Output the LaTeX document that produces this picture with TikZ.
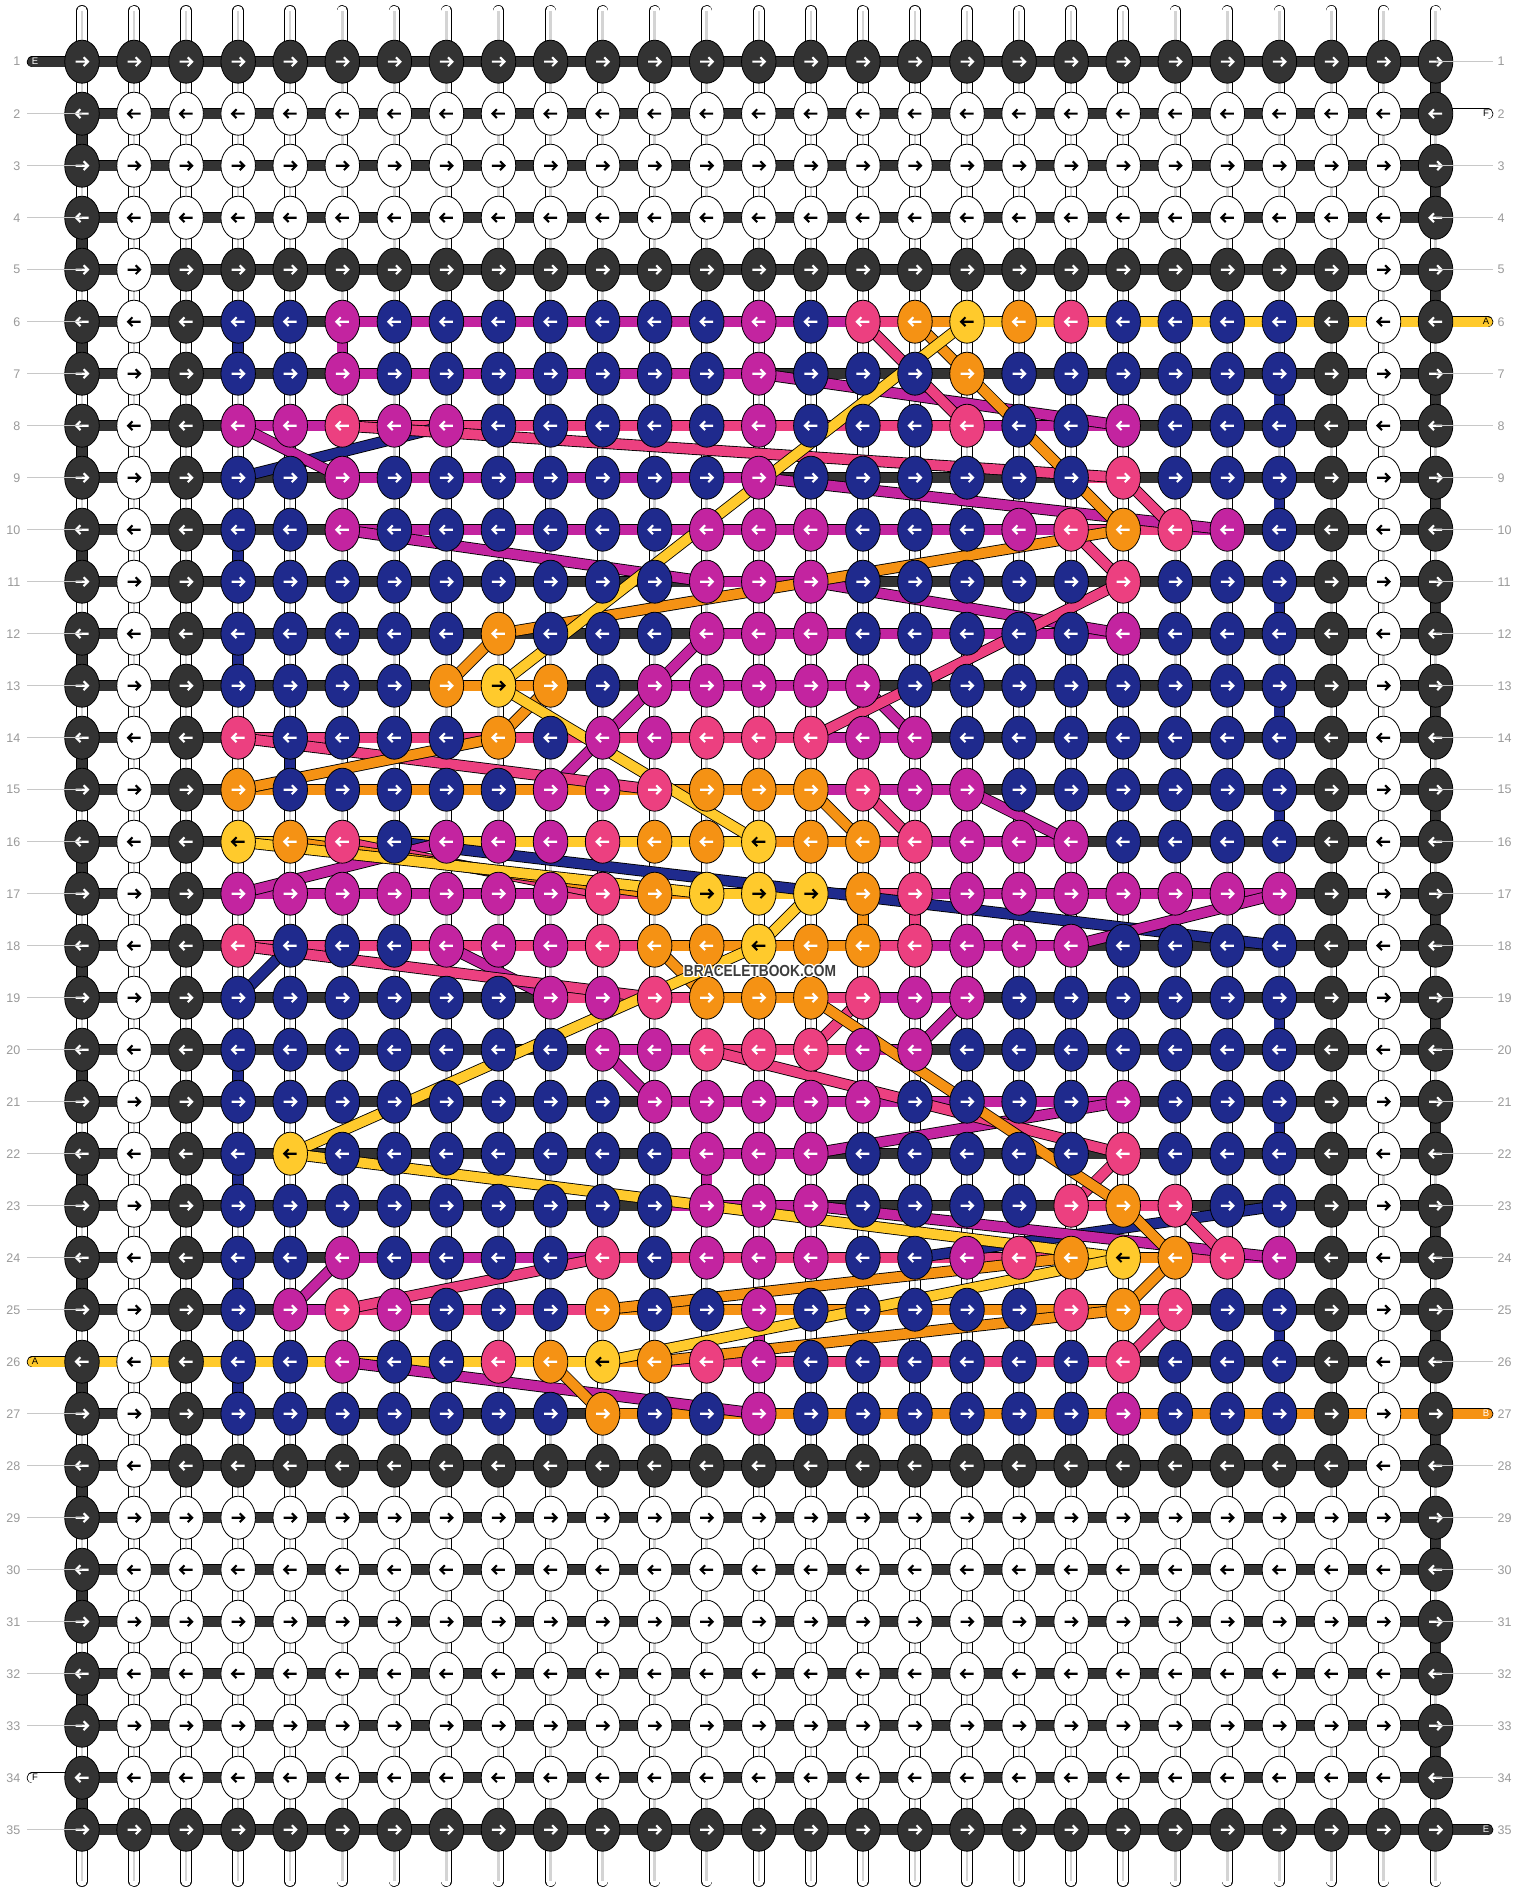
\documentclass[tikz,border=0pt]{standalone}
\usepackage{fontspec}
\setmainfont{Liberation Sans}
\usepackage{graphicx}
\usetikzlibrary{shapes.geometric}
\definecolor{cK}{HTML}{333333}
\definecolor{cW}{HTML}{FFFFFF}
\definecolor{cN}{HTML}{1F2A8D}
\definecolor{cM}{HTML}{C324A0}
\definecolor{cP}{HTML}{EC4080}
\definecolor{cO}{HTML}{F59214}
\definecolor{cY}{HTML}{FFCA2C}
\colorlet{aK}{white}\colorlet{aW}{black}\colorlet{aN}{white}\colorlet{aM}{white}
\colorlet{aP}{white}\colorlet{aO}{white}\colorlet{aY}{black}
\definecolor{numgray}{HTML}{9A9A9A}
\definecolor{linegray}{HTML}{C8C8C8}
\definecolor{stgray}{HTML}{D4D4D4}
\definecolor{wmgray}{HTML}{3C3C3C}
\tikzset{
  knot/.style={ellipse, draw=black, line width=0.8pt, minimum width=34.5pt, minimum height=43pt, inner sep=0pt},
  arrowline/.style={line width=2.1pt, line join=miter},
  rownum/.style={font=\fontsize{12.5}{14}\selectfont, text=numgray, inner sep=0pt},
  endlabel/.style={font=\fontsize{9.5}{11}\selectfont, inner sep=0pt},
  barout/.style={line width=11.5pt, black},
  barin/.style={line width=10pt},
  wmark/.style={font=\fontsize{16}{18}\selectfont\bfseries, inner sep=0pt},
}
\def\KK{K,K,K,K,K,K,K,K,K,K,K,K,K,K,K,K,K,K,K,K,K,K,K,K,K,K,K}
\def\KW{K,W,W,W,W,W,W,W,W,W,W,W,W,W,W,W,W,W,W,W,W,W,W,W,W,W,K}
\def\KD{K,W,K,K,K,K,K,K,K,K,K,K,K,K,K,K,K,K,K,K,K,K,K,K,K,W,K}
\def\HK{K,K,K,K,K,K,K,K,K,K,K,K,K,K,K,K,K,K,K,K,K,K,K,K,K,K}
\newcommand\myknotrow[2]{%
  \pgfmathsetmacro\dir{ifthenelse(mod(#1,2)==1,1,-1)}%
  \edef\tmplist{#2}%
  \foreach \k [count=\c] in \tmplist {%
    \node[knot, fill=c\k] (k-#1-\c) at (p-#1-\c) {};
    \begin{scope}[shift={(p-#1-\c)}, xscale=\dir]
      \draw[arrowline, draw=a\k] (-6.5,0) -- (5.4,0) (1.6,-4.4) -- (6,0) -- (1.6,4.4);
    \end{scope}
  }%
}
\newcommand\myhrow[2]{%
  \edef\tmplist{#2}%
  \foreach \k [count=\c] in \tmplist {%
    \pgfmathtruncatemacro\cn{\c+1}%
    \draw[barout] (p-#1-\c) -- (p-#1-\cn);
    \draw[barin, draw=c\k] (p-#1-\c) -- (p-#1-\cn);
  }%
}
\newcommand\myvc[3]{%
  \pgfmathtruncatemacro\rn{#2+1}%
  \draw[barout] (p-#2-#1) -- (p-\rn-#1);
  \draw[barin, draw=c#3] (p-#2-#1) -- (p-\rn-#1);
}
\begin{document}
\begin{tikzpicture}[x=1pt,y=-1pt]
\useasboundingbox (0,0) rectangle (1520,1892);
\fill[white] (0,0) rectangle (1520,1892);
% grid coordinates
\foreach \r in {1,...,35}{
  \foreach \c in {1,...,27}{
    \pgfmathsetmacro\xx{82+(\c-1)*52.06}
    \pgfmathsetmacro\yy{61.7+(\r-1)*52}
    \coordinate (p-\r-\c) at (\xx,\yy);
  }
}
% top and bottom strands
\foreach \c in {1,...,27}{
  \pgfmathsetmacro\xx{82+(\c-1)*52.06}
  \coordinate (t-\c) at (\xx,10.8);
  \coordinate (b-\c) at (\xx,1881.2);
  \draw[barout, line cap=round] (t-\c) -- (p-1-\c);
  \draw[barin, white, line cap=round] (t-\c) -- (p-1-\c);
  \draw[line width=2.5pt, stgray] (t-\c) -- (p-1-\c);
  \draw[barout, line cap=round] (b-\c) -- (p-35-\c);
  \draw[barin, white, line cap=round] (b-\c) -- (p-35-\c);
  \draw[line width=2.5pt, stgray] (b-\c) -- (p-35-\c);
}
% vertical connectors (default white)
\foreach \r in {1,...,34}{
  \pgfmathtruncatemacro\rn{\r+1}
  \foreach \c in {1,...,27}{
    \draw[barout] (p-\r-\c) -- (p-\rn-\c);
    \draw[barin, white] (p-\r-\c) -- (p-\rn-\c);
    \draw[line width=2.5pt, stgray] (p-\r-\c) -- (p-\rn-\c);
  }
}
% coloured vertical connectors
\foreach \r in {2,4,...,34}{\myvc{1}{\r}{K}}
\foreach \r in {1,3,...,33}{\myvc{27}{\r}{K}}
\foreach \r in {6,10,12,20,22,24,26}{\myvc{4}{\r}{N}}
\foreach \r in {7,9,11,13,15,19,21,25}{\myvc{24}{\r}{N}}
\foreach \c/\r/\k in {6/6/M,5/14/N,16/17/O,17/17/P,13/22/M,14/25/M}{\myvc{\c}{\r}{\k}}
% horizontal connectors
\foreach \r in {1,...,5}{\myhrow{\r}{\HK}}
\foreach \r in {28,...,35}{\myhrow{\r}{\HK}}
\myhrow{6}{K,K,K,K,K,M,M,M,M,M,M,M,M,M,M,P,O,Y,Y,Y,Y,Y,Y,Y,Y,Y}
\myhrow{7}{K,K,K,K,K,M,M,M,M,M,M,M,M,K,K,K,K,K,K,K,K,K,K,K,K,K}
\myhrow{8}{K,K,K,M,M,P,P,P,P,P,P,P,P,P,P,P,P,M,M,M,K,K,K,K,K,K}
\myhrow{9}{K,K,K,K,K,M,M,M,M,M,M,M,M,K,K,K,K,K,K,P,K,K,K,K,K,K}
\myhrow{10}{K,K,K,K,K,M,M,M,M,M,M,M,M,M,M,M,M,M,M,P,P,M,K,K,K,K}
\myhrow{11}{K,K,K,K,K,K,K,K,K,K,K,K,M,M,K,K,K,K,K,K,K,K,K,K,K,K}
\myhrow{12}{K,K,K,K,K,K,K,K,K,K,K,K,M,M,M,M,M,M,M,M,K,K,K,K,K,K}
\myhrow{13}{K,K,K,K,K,K,K,O,O,K,K,M,M,M,M,K,K,K,K,K,K,K,K,K,K,K}
\myhrow{14}{K,K,K,P,P,P,P,P,P,P,P,P,P,P,M,M,K,K,K,K,K,K,K,K,K,K}
\myhrow{15}{K,K,K,O,O,O,O,O,O,O,O,O,O,O,M,M,M,K,K,K,K,K,K,K,K,K}
\myhrow{16}{K,K,K,Y,Y,Y,Y,Y,Y,Y,Y,Y,Y,O,O,P,M,M,M,K,K,K,K,K,K,K}
\myhrow{17}{K,K,K,M,M,M,M,M,M,P,P,O,Y,Y,O,P,M,M,M,M,M,M,M,K,K,K}
\myhrow{18}{K,K,K,P,P,P,P,P,P,P,P,O,O,O,O,P,M,M,M,K,K,K,K,K,K,K}
\myhrow{19}{K,K,K,K,K,K,K,K,K,P,P,P,O,O,P,M,M,K,K,K,K,K,K,K,K,K}
\myhrow{20}{K,K,K,K,K,K,K,K,K,K,M,M,P,P,P,M,K,K,K,K,K,K,K,K,K,K}
\myhrow{21}{K,K,K,K,K,K,K,K,K,K,K,M,M,M,M,M,M,M,M,M,K,K,K,K,K,K}
\myhrow{22}{K,K,K,K,K,K,K,K,K,K,K,M,M,M,K,K,K,K,K,K,K,K,K,K,K,K}
\myhrow{23}{K,K,K,K,K,K,K,K,K,K,K,M,M,M,K,K,K,K,K,P,P,K,K,K,K,K}
\myhrow{24}{K,K,K,K,K,M,M,M,M,M,P,P,P,P,P,P,P,P,P,Y,O,P,M,K,K,K}
\myhrow{25}{K,K,K,K,M,P,P,P,P,P,O,O,O,O,O,O,O,O,O,O,P,K,K,K,K,K}
\myhrow{26}{Y,Y,Y,Y,Y,Y,Y,Y,Y,Y,O,P,P,P,P,P,P,P,P,P,K,K,K,K,K,K}
\myhrow{27}{K,K,K,K,K,K,K,K,K,K,O,O,O,O,O,O,O,O,O,O,O,O,O,O,O,O}
% strand ends with letters
\foreach \r/\k/\lab/\tc in {1/K/E/white,26/Y/A/black,34/W/F/black}{
  \path (p-\r-1) ++(-49.5,0) coordinate (eL-\r);
  \draw[barout, line cap=round] (eL-\r) -- (p-\r-1);
  \draw[barin, draw=c\k, line cap=round] (eL-\r) -- (p-\r-1);
  \path (eL-\r) ++(2.5,0) node[endlabel, text=\tc] (lbL-\r) {\lab};
}
\foreach \r/\k/\lab/\tc in {2/W/F/black,6/Y/A/black,27/O/B/white,35/K/E/white}{
  \path (p-\r-27) ++(52,0) coordinate (eR-\r);
  \draw[barout, line cap=round] (eR-\r) -- (p-\r-27);
  \draw[barin, draw=c\k, line cap=round] (eR-\r) -- (p-\r-27);
  \path (eR-\r) ++(-1.5,0) node[endlabel, text=\tc] (lbR-\r) {\lab};
}
% diagonal strands
\foreach \k/\ra/\ca/\rb/\cb in {
 N/8/8/9/4, N/16/7/18/24, N/18/5/19/4, N/24/17/23/24,
 M/8/4/9/6, M/10/6/11/13, M/7/14/8/21, M/9/14/10/23, M/11/15/12/21, M/12/13/13/12,
 M/13/16/14/17, M/13/12/15/10, M/15/18/16/20, M/17/4/16/8, M/18/8/19/10, M/20/11/21/12,
 M/20/17/19/18, M/18/20/17/24, M/22/15/21/21, M/23/15/24/24, M/25/5/24/6, M/26/6/27/14,
 P/8/6/9/21, P/6/16/8/18, P/9/21/10/22, P/10/20/11/21, P/11/21/14/15, P/14/4/15/12,
 P/15/16/16/17, P/16/6/17/11, P/18/4/19/12, P/20/13/22/21, P/20/15/19/16, P/22/21/23/20,
 P/23/22/24/23, P/25/22/26/21, P/25/6/24/11,
 O/6/17/7/18, O/7/18/10/21, O/10/21/12/9, O/12/9/13/8, O/13/10/14/9, O/14/9/15/4,
 O/15/15/16/16, O/16/5/17/12, O/18/12/19/13, O/19/15/23/21, O/23/21/24/22, O/24/22/25/21,
 O/25/11/24/20, O/26/12/25/21, O/26/10/27/11,
 Y/6/18/13/9, Y/13/9/16/14, Y/16/4/17/13, Y/17/15/18/14, Y/18/14/22/5, Y/22/5/24/21, Y/24/21/26/11}{
  \draw[line width=11.5pt, black] (p-\ra-\ca) -- (p-\rb-\cb);
  \draw[line width=9.8pt, c\k] (p-\ra-\ca) -- (p-\rb-\cb);
}
% knots
\myknotrow{1}{\KK}
\foreach \r in {2,3,4}{\myknotrow{\r}{\KW}}
\myknotrow{5}{\KD}
\myknotrow{6}{K,W,K,N,N,M,N,N,N,N,N,N,N,M,N,P,O,Y,O,P,N,N,N,N,K,W,K}
\myknotrow{7}{K,W,K,N,N,M,N,N,N,N,N,N,N,M,N,N,N,O,N,N,N,N,N,N,K,W,K}
\myknotrow{8}{K,W,K,M,M,P,M,M,N,N,N,N,N,M,N,N,N,P,N,N,M,N,N,N,K,W,K}
\myknotrow{9}{K,W,K,N,N,M,N,N,N,N,N,N,N,M,N,N,N,N,N,N,P,N,N,N,K,W,K}
\myknotrow{10}{K,W,K,N,N,M,N,N,N,N,N,N,M,M,M,N,N,N,M,P,O,P,M,N,K,W,K}
\myknotrow{11}{K,W,K,N,N,N,N,N,N,N,N,N,M,M,M,N,N,N,N,N,P,N,N,N,K,W,K}
\myknotrow{12}{K,W,K,N,N,N,N,N,O,N,N,N,M,M,M,N,N,N,N,N,M,N,N,N,K,W,K}
\myknotrow{13}{K,W,K,N,N,N,N,O,Y,O,N,M,M,M,M,M,N,N,N,N,N,N,N,N,K,W,K}
\myknotrow{14}{K,W,K,P,N,N,N,N,O,N,M,M,P,P,P,M,M,N,N,N,N,N,N,N,K,W,K}
\myknotrow{15}{K,W,K,O,N,N,N,N,N,M,M,P,O,O,O,P,M,M,N,N,N,N,N,N,K,W,K}
\myknotrow{16}{K,W,K,Y,O,P,N,M,M,M,P,O,O,Y,O,O,P,M,M,M,N,N,N,N,K,W,K}
\myknotrow{17}{K,W,K,M,M,M,M,M,M,M,P,O,Y,Y,Y,O,P,M,M,M,M,M,M,M,K,W,K}
\myknotrow{18}{K,W,K,P,N,N,N,M,M,M,P,O,O,Y,O,O,P,M,M,M,N,N,N,N,K,W,K}
\myknotrow{19}{K,W,K,N,N,N,N,N,N,M,M,P,O,O,O,P,M,M,N,N,N,N,N,N,K,W,K}
\myknotrow{20}{K,W,K,N,N,N,N,N,N,N,M,M,P,P,P,M,M,N,N,N,N,N,N,N,K,W,K}
\myknotrow{21}{K,W,K,N,N,N,N,N,N,N,N,M,M,M,M,M,N,N,N,N,M,N,N,N,K,W,K}
\myknotrow{22}{K,W,K,N,Y,N,N,N,N,N,N,N,M,M,M,N,N,N,N,N,P,N,N,N,K,W,K}
\myknotrow{23}{K,W,K,N,N,N,N,N,N,N,N,N,M,M,M,N,N,N,N,P,O,P,N,N,K,W,K}
\myknotrow{24}{K,W,K,N,N,M,N,N,N,N,P,N,M,M,M,N,N,M,P,O,Y,O,P,M,K,W,K}
\myknotrow{25}{K,W,K,N,M,P,M,N,N,N,O,N,N,M,N,N,N,N,N,P,O,P,N,N,K,W,K}
\myknotrow{26}{K,W,K,N,N,M,N,N,P,O,Y,O,P,M,N,N,N,N,N,N,P,N,N,N,K,W,K}
\myknotrow{27}{K,W,K,N,N,N,N,N,N,N,O,N,N,M,N,N,N,N,N,N,M,N,N,N,K,W,K}
\myknotrow{28}{\KD}
\foreach \r in {29,...,34}{\myknotrow{\r}{\KW}}
\myknotrow{35}{\KK}
% row numbers and leader lines
\foreach \r in {1,...,35}{
  \path (p-\r-1) ++(-61.5,0) node[rownum, anchor=east] (nL-\r) {\r};
  \path (p-\r-27) ++(61.9,0) node[rownum, anchor=west] (nR-\r) {\r};
}
\foreach \r in {2,...,25}{\draw[linegray, line width=1pt] (p-\r-1) ++(-55,0) -- (p-\r-1);}
\foreach \r in {27,...,33}{\draw[linegray, line width=1pt] (p-\r-1) ++(-55,0) -- (p-\r-1);}
\draw[linegray, line width=1pt] (p-35-1) ++(-55,0) -- (p-35-1);
\foreach \r in {1,3,4,5}{\draw[linegray, line width=1pt] (p-\r-27) ++(57.4,0) -- (p-\r-27);}
\foreach \r in {7,...,26}{\draw[linegray, line width=1pt] (p-\r-27) ++(57.4,0) -- (p-\r-27);}
\foreach \r in {28,...,34}{\draw[linegray, line width=1pt] (p-\r-27) ++(57.4,0) -- (p-\r-27);}
% watermark
\foreach \dx/\dy [count=\i] in {1.2/0,-1.2/0,0/1.2,0/-1.2,1/1,-1/-1,1/-1,-1/1}{
  \node[wmark, text=white] (wmh-\i) at (760+\dx,971+\dy) {\scalebox{0.86}[1]{BRACELETBOOK.COM}};
}
\node[wmark, text=wmgray] (wm) at (760,971) {\scalebox{0.86}[1]{BRACELETBOOK.COM}};
\end{tikzpicture}
\end{document}
